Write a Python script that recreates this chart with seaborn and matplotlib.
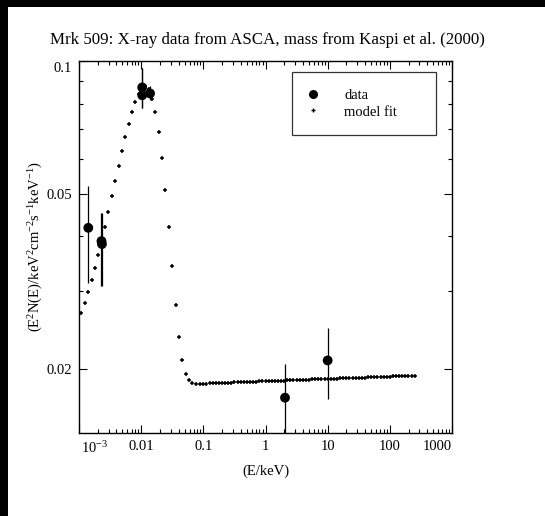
import numpy as np
import pandas as pd
import seaborn as sns
import matplotlib
matplotlib.use("Agg")
import matplotlib.pyplot as plt
from matplotlib.lines import Line2D
from matplotlib.patches import Rectangle
from matplotlib.transforms import ScaledTranslation

# ---------------- data ----------------
title_text = "Mrk 509: X-ray data from ASCA, mass from Kaspi et al. (2000)"
x_label = "(E/keV)"
y_label = r"(E$^2$N(E)/keV$^2$cm$^{-2}$s$^{-1}$keV$^{-1}$)"

data_E = [1.41e-3, 2.30e-3, 2.34e-3, 0.0104, 0.0104, 0.0139, 2.06, 10.0]
data_F = [0.0418, 0.0390, 0.0384, 0.0871, 0.0836, 0.0844, 0.0172, 0.0209]
data_lo = [0.0313, 0.0308, 0.0308, 0.0781, 0.0781, 0.0815, 0.0130, 0.0171]
data_hi = [0.0521, 0.0452, 0.0452, 0.0964, 0.0964, 0.0877, 0.0205, 0.0247]

model_E_peak = [1.077e-3, 1.226e-3, 1.396e-3, 1.589e-3, 1.809e-3, 2.044e-3, 2.309e-3,
                2.591e-3, 2.960e-3, 3.357e-3, 3.836e-3, 4.351e-3, 4.916e-3, 5.555e-3,
                6.300e-3, 7.120e-3, 8.045e-3, 9.127e-3, 0.01031, 0.01165, 0.01322,
                0.01493, 0.01688, 0.01914, 0.02163, 0.02444, 0.02803, 0.03167,
                0.03592, 0.04060, 0.04587, 0.05203, 0.05878, 0.06645, 0.07535]
model_F_peak = [0.02677, 0.02822, 0.02984, 0.03178, 0.03391, 0.03626, 0.03903,
                0.04207, 0.04551, 0.04926, 0.05329, 0.05788, 0.06262, 0.06719,
                0.07208, 0.07676, 0.08073, 0.08407, 0.08677, 0.08768, 0.08631,
                0.08187, 0.07647, 0.06910, 0.06035, 0.05094, 0.04207, 0.03421,
                0.02797, 0.02364, 0.02096, 0.01950, 0.01882, 0.01860, 0.01850]

model_logE_flat = [-1.05, -1.00, -0.95, -0.90, -0.85, -0.80, -0.75, -0.70, -0.65, -0.60,
                   -0.55, -0.50, -0.45, -0.40, -0.35, -0.30, -0.25, -0.20, -0.15, -0.10,
                   -0.05, 0.00, 0.05, 0.10, 0.15, 0.20, 0.25, 0.30, 0.35, 0.40,
                   0.45, 0.50, 0.55, 0.60, 0.65, 0.70, 0.75, 0.80, 0.85, 0.90,
                   0.95, 1.00, 1.05, 1.10, 1.15, 1.20, 1.25, 1.30, 1.35, 1.40,
                   1.45, 1.50, 1.55, 1.60, 1.65, 1.70, 1.75, 1.80, 1.85, 1.90,
                   1.95, 2.00, 2.05, 2.10, 2.15, 2.20, 2.25, 2.30, 2.35, 2.40]
model_F_flat = [0.01850, 0.01851, 0.01852, 0.01853, 0.01855, 0.01856, 0.01857, 0.01858,
                0.01859, 0.01860, 0.01862, 0.01863, 0.01864, 0.01865, 0.01866, 0.01867,
                0.01869, 0.01870, 0.01871, 0.01872, 0.01873, 0.01874, 0.01876, 0.01877,
                0.01878, 0.01879, 0.01880, 0.01881, 0.01882, 0.01884, 0.01885, 0.01886,
                0.01887, 0.01888, 0.01889, 0.01891, 0.01892, 0.01893, 0.01894, 0.01895,
                0.01896, 0.01898, 0.01899, 0.01900, 0.01901, 0.01902, 0.01903, 0.01905,
                0.01906, 0.01907, 0.01908, 0.01909, 0.01910, 0.01911, 0.01913, 0.01914,
                0.01915, 0.01916, 0.01917, 0.01918, 0.01920, 0.01921, 0.01922, 0.01923,
                0.01924, 0.01925, 0.01927, 0.01928, 0.01929, 0.01930]

x_ticks = [1e-3, 1e-2, 1e-1, 1, 10, 100, 1000]
x_tick_labels = [r"10$^{-3}$", "0.01", "0.1", "1", "10", "100", "1000"]
y_ticks = [0.02, 0.05, 0.1]
y_tick_labels = ["0.02", "0.05", "0.1"]
legend_labels = ["data", "model fit"]

# ---------------- style ----------------
sns.set_style("ticks")
plt.rcParams["font.family"] = ["Liberation Serif", "DejaVu Serif"]
plt.rcParams["mathtext.fontset"] = "custom"
plt.rcParams["mathtext.rm"] = "Liberation Serif"
plt.rcParams["mathtext.it"] = "Liberation Serif:italic"
plt.rcParams["mathtext.bf"] = "Liberation Serif:bold"

model_df = pd.DataFrame({
    "E": model_E_peak + [10 ** v for v in model_logE_flat],
    "F": model_F_peak + model_F_flat,
})
data_df = pd.DataFrame({"E": data_E, "F": data_F, "lo": data_lo, "hi": data_hi})

fig = plt.figure(figsize=(5.45, 5.16), dpi=100, facecolor="white")
ax = fig.add_axes([79 / 545, 1 - 433 / 516, 373 / 545, 372 / 516])
ax.set_facecolor("white")

# error bars
ax.vlines(data_df["E"], data_df["lo"], data_df["hi"], colors="black", linewidth=0.9, zorder=2)

sns.scatterplot(data=model_df, x="E", y="F", marker="+", s=12, color="black",
                linewidth=1.1, ax=ax, zorder=3, legend=False)
sns.scatterplot(data=data_df, x="E", y="F", marker="o", s=50, color="black",
                edgecolor="none", ax=ax, zorder=4, legend=False)

ax.set_xscale("log")
ax.set_yscale("log")
ax.set_xlim(1e-3, 1e3)
ax.set_ylim(0.0143, 0.1)

ax.set_xticks(x_ticks)
ax.set_xticklabels(x_tick_labels, fontsize=10.5)
ax.set_yticks(y_ticks)
ax.set_yticklabels(y_tick_labels, fontsize=10.5)
ax.yaxis.set_minor_locator(matplotlib.ticker.LogLocator(base=10, subs=np.arange(2, 10)))
ax.yaxis.set_minor_formatter(matplotlib.ticker.NullFormatter())
ax.xaxis.set_minor_locator(matplotlib.ticker.LogLocator(base=10, subs=np.arange(2, 10), numticks=20))
ax.xaxis.set_minor_formatter(matplotlib.ticker.NullFormatter())

ax.tick_params(which="both", direction="in", top=True, right=True, color="black",
               labelcolor="black", width=0.8)
ax.tick_params(which="major", length=6, pad=5)
ax.tick_params(which="minor", length=3)
for s in ax.spines.values():
    s.set_color("black")
    s.set_linewidth(1.0)

# keep edge labels inside like the original
xl = ax.get_xticklabels()
xl[0].set_horizontalalignment("left")
xl[0].set_transform(xl[0].get_transform() + ScaledTranslation(2 / 100, 0, fig.dpi_scale_trans))
xl[-1].set_horizontalalignment("right")
yl = ax.get_yticklabels()
yl[-1].set_verticalalignment("top")
yl[-1].set_transform(yl[-1].get_transform() + ScaledTranslation(0, -1 / 100, fig.dpi_scale_trans))

ax.set_xlabel(x_label, fontsize=10.5, color="black", labelpad=6)
ax.set_ylabel(y_label, fontsize=10.5, color="black", labelpad=1)
fig.text(0.5 * (48 + 487) / 545, 1 - 40 / 516, title_text, ha="center", va="center",
         fontsize=12.2, color="black")

handles = [
    Line2D([], [], linestyle="none", marker="o", markersize=6.5, color="black", markeredgecolor="none"),
    Line2D([], [], linestyle="none", marker="+", markersize=3.2, color="black", markeredgewidth=1.0),
]
leg = ax.legend(handles, legend_labels, loc="upper left",
                bbox_to_anchor=(0.571, 0.812, 0.386, 0.158), mode="expand",
                frameon=True, fancybox=False, fontsize=10.5, borderpad=1.15,
                labelspacing=0.22, handlelength=0.6, handletextpad=1.85,
                borderaxespad=0)
leg.get_frame().set_edgecolor("black")
leg.get_frame().set_linewidth(0.9)
for t in leg.get_texts():
    t.set_color("black")

# black border strips like the reference
fig.patches.append(Rectangle((0, 0), 8 / 545, 1, transform=fig.transFigure,
                             facecolor="black", edgecolor="none", zorder=10))
fig.patches.append(Rectangle((0, 1 - 7 / 516), 1, 7 / 516, transform=fig.transFigure,
                             facecolor="black", edgecolor="none", zorder=10))

fig.savefig("out.png", dpi=100, facecolor="white")
